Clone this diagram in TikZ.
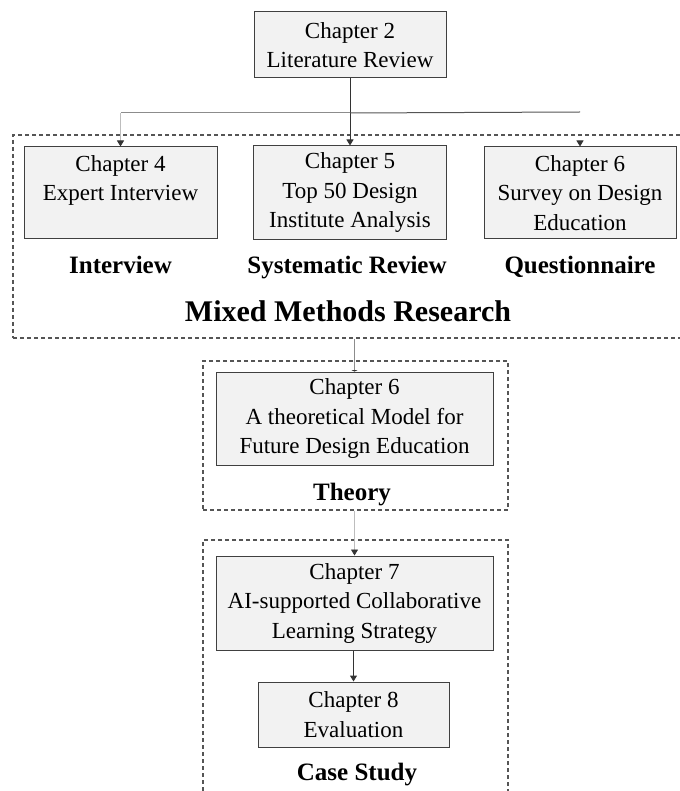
\documentclass[tikz,border=0pt]{standalone}
\usepackage{fontspec}
\setmainfont{Liberation Serif}
\usetikzlibrary{arrows.meta}
\definecolor{boxfill}{HTML}{F2F2F2}
\definecolor{boxline}{HTML}{404040}
\definecolor{frameline}{HTML}{555555}
\definecolor{darkline}{HTML}{333333}
\definecolor{midline}{HTML}{8C8C8C}
\definecolor{lightline}{HTML}{BDBDBD}
\begin{document}
\begin{tikzpicture}[x=1pt,y=-1pt,
  chapbox/.style={draw=boxline, fill=boxfill, line width=1pt, align=center,
    inner sep=0pt, font=\fontsize{23}{29.5}\selectfont},
  frame/.style={draw=frameline, line width=1.1pt, dash pattern=on 4pt off 3pt,
    inner sep=0pt},
  tag/.style={anchor=base, font=\bfseries\fontsize{25}{30}\selectfont},
  bigtag/.style={anchor=base, font=\bfseries\fontsize{30}{36}\selectfont},
  tip/.style={-{Triangle[width=7pt,length=6pt,color=darkline]}},
]
\useasboundingbox (0,0) rectangle (679,791);

% dashed method frames
\node[frame, minimum width=687, minimum height=203] (mm) at (356.5,236.5) {};
\node[frame, minimum width=305, minimum height=149] (th) at (355.5,435.5) {};
\node[frame, minimum width=305, minimum height=270] (cs) at (355.5,675) {};

% chapter boxes
\node[chapbox, minimum width=192, minimum height=66] (lit) at (350,45)
  {Chapter 2\\Literature Review};
\node[chapbox, minimum width=193, minimum height=92] (ch4) at (120.5,193)
  {Chapter 4\\Expert Interview\\\mbox{}};
\node[chapbox, minimum width=193, minimum height=94] (ch5) at (350,193)
  {Chapter 5\\Top 50 Design\\Institute Analysis};
\node[chapbox, minimum width=192, minimum height=92] (ch6a) at (580,193)
  {Chapter 6\\Survey on Design\\Education};
\node[chapbox, minimum width=277, minimum height=93] (ch6b) at (354.5,418.5)
  {Chapter 6\\A theoretical Model for\\Future Design Education};
\node[chapbox, minimum width=277, minimum height=94] (ch7) at (354.5,603)
  {Chapter 7\\AI-supported Collaborative\\Learning Strategy};
\node[chapbox, minimum width=191, minimum height=65] (ch8) at (353.5,714.5)
  {Chapter 8\\Evaluation};

% method labels
\node[tag] (lint) at (120.5,273.5) {Interview};
\node[tag] (lsys) at (347,273.5) {Systematic Review};
\node[tag] (lque) at (580,273.5) {Questionnaire};
\node[bigtag] (lmix) at (348,321.5) {Mixed Methods Research};
\node[tag] (lthe) at (352,500.5) {Theory};
\node[tag] (lcas) at (357,780.5) {Case Study};

% connectors from the literature review
\coordinate (split) at (350,113);
\coordinate (lcorner) at (ch4.north |- split);
\coordinate (rend) at (580,112);
\coordinate (qtip) at (580,141);
\draw[darkline, line width=1pt, tip] (lit.south) -- (ch5.north);
\draw[midline, line width=1pt] (split) -- (lcorner);
\draw[lightline, line width=1pt, tip] (lcorner) -- (ch4.north);
\draw[frameline, line width=1pt] (split) -- (rend);
\draw[darkline, line width=1pt, tip] (qtip) -- (ch6a.north);

% connectors between the stages
\draw[midline, line width=1.6pt, -{Triangle[width=6pt,length=1.5pt,color=darkline]}]
  (mm.south -| ch6b.north) -- (ch6b.north);
\draw[lightline, line width=0.8pt, tip] (th.south -| ch7.north) -- (ch7.north);
\draw[darkline, line width=1pt, tip] (ch7.south -| ch8.north) -- (ch8.north);
\end{tikzpicture}
\end{document}
